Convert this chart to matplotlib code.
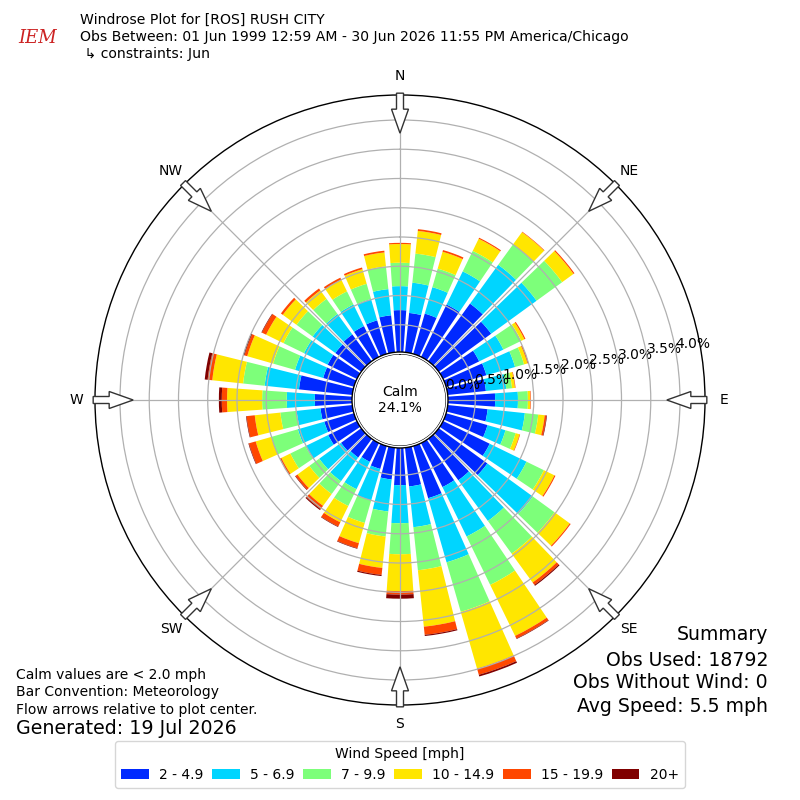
import numpy as np
import matplotlib
matplotlib.use("Agg")
import matplotlib.pyplot as plt
from matplotlib.patches import Circle, FancyArrow

# ---------------- data ----------------
directions = list(range(0, 360, 10))  # degrees, meteorological (from)
speed_bins = ["2 - 4.9", "5 - 6.9", "7 - 9.9", "10 - 14.9", "15 - 19.9", "20+"]

# frequency (%) per direction for each speed bin
s_2_5 = [0.75, 0.71, 0.75, 1.03, 1.25, 1.14, 0.72, 0.75, 0.69, 0.84, 0.72, 0.77,
         0.92, 1.06, 0.91, 0.87, 0.96, 0.70, 0.67, 0.58, 0.44, 0.39, 0.43, 0.46,
         0.58, 0.56, 0.58, 0.67, 0.95, 0.58, 0.59, 0.58, 0.60, 0.62, 0.63, 0.67]
s_5_7 = [0.41, 0.52, 0.47, 0.63, 0.82, 0.96, 0.46, 0.51, 0.35, 0.39, 0.64, 0.32,
         0.70, 0.96, 0.86, 0.94, 1.14, 0.70, 0.65, 0.55, 0.56, 0.52, 0.50, 0.46,
         0.43, 0.47, 0.41, 0.48, 0.59, 0.50, 0.45, 0.48, 0.43, 0.41, 0.38, 0.45]
s_7_10 = [0.40, 0.50, 0.33, 0.39, 0.43, 0.54, 0.34, 0.16, 0.10, 0.17, 0.23, 0.18,
          0.33, 0.46, 0.69, 0.92, 0.88, 0.74, 0.53, 0.43, 0.40, 0.32, 0.27, 0.21,
          0.29, 0.47, 0.28, 0.42, 0.37, 0.39, 0.39, 0.34, 0.32, 0.25, 0.27, 0.39]
s_10_15 = [0.32, 0.39, 0.30, 0.23, 0.26, 0.24, 0.06, 0.06, 0.05, 0.04, 0.11, 0.07,
           0.20, 0.32, 0.61, 0.97, 1.01, 0.97, 0.63, 0.54, 0.36, 0.31, 0.25, 0.25,
           0.17, 0.28, 0.44, 0.60, 0.53, 0.46, 0.33, 0.29, 0.18, 0.22, 0.26, 0.24]
s_15_20 = [0.02, 0.03, 0.03, 0.02, 0.01, 0.02, 0.02, 0.02, 0.01, 0.01, 0.03, 0.01,
           0.02, 0.02, 0.05, 0.05, 0.11, 0.14, 0.06, 0.12, 0.09, 0.08, 0.07, 0.04,
           0.03, 0.12, 0.14, 0.09, 0.08, 0.05, 0.08, 0.04, 0.04, 0.04, 0.03, 0.03]
s_20p = [0.00, 0.00, 0.00, 0.00, 0.00, 0.00, 0.00, 0.00, 0.00, 0.00, 0.01, 0.00,
         0.00, 0.00, 0.02, 0.01, 0.03, 0.02, 0.07, 0.02, 0.01, 0.01, 0.02, 0.01,
         0.00, 0.01, 0.01, 0.05, 0.05, 0.02, 0.01, 0.00, 0.00, 0.00, 0.00, 0.00]
series = [s_2_5, s_5_7, s_7_10, s_10_15, s_15_20, s_20p]

r_ticks = [0.0, 0.5, 1.0, 1.5, 2.0, 2.5, 3.0, 3.5, 4.0]
compass_deg = [0, 45, 90, 135, 180, 225, 270, 315]
compass_lab = ["N", "NE", "E", "SE", "S", "SW", "W", "NW"]
calm_pct = 24.1

# ---------------- figure ----------------
fig = plt.figure(figsize=(8, 8), dpi=100)
AX_R_PX = 305.0
ax_size = 2 * AX_R_PX / 800.0
ax = fig.add_axes([0.5 - ax_size / 2, 0.5 - ax_size / 2, ax_size, ax_size],
                  projection="polar")
ax.set_theta_zero_location("N")
ax.set_theta_direction(-1)

colors = plt.cm.jet(np.linspace(0, 1, 7)[1:])
theta = np.radians(directions)
bottom = np.zeros(len(directions))
for vals, c, lab in zip(series, colors, speed_bins):
    vals = np.asarray(vals)
    ax.bar(theta, vals, width=np.radians(8.0), bottom=bottom, color=c,
           edgecolor="none", label=lab, zorder=1)
    bottom = bottom + vals

rmax = 4.427
ax.set_ylim(0, rmax)
ax.set_rorigin(-0.786)
ax.set_yticks(r_ticks)
ax.set_yticklabels([f"{v:.1f}%" for v in r_ticks], fontsize=10)
ax.set_rlabel_position(80)
ax.set_xticks(np.radians(compass_deg))
ax.set_xticklabels([])
ax.grid(True, color="#b0b0b0", lw=0.9)
ax.spines["polar"].set_color("black")
ax.spines["polar"].set_linewidth(1.0)
ax.spines["inner"].set_visible(False)

# calm circle
ax.add_patch(Circle((0.5, 0.5), 48 / (2 * AX_R_PX), transform=ax.transAxes,
                    fc="white", ec="black", lw=1.0, zorder=4))
ax.text(0.5, 0.5, f"Calm\n{calm_pct:.1f}%", transform=ax.transAxes,
        ha="center", va="center", fontsize=10, zorder=6, linespacing=1.2)

# compass labels and flow arrows
for d, lab in zip(compass_deg, compass_lab):
    ax.text(np.radians(d), rmax + 19 / 58.5, lab, ha="center", va="center",
            fontsize=10)
    a = np.radians(d)
    ux, uy = np.sin(a), np.cos(a)
    start_r = 0.503
    L = 40 / (2 * AX_R_PX)
    arr = FancyArrow(0.5 + start_r * ux, 0.5 + start_r * uy, -ux * L, -uy * L,
                     width=7 / (2 * AX_R_PX), head_width=17 / (2 * AX_R_PX),
                     head_length=24 / (2 * AX_R_PX), length_includes_head=True,
                     transform=ax.transAxes, fc="white", ec="#333333", lw=1.0,
                     clip_on=False, zorder=7)
    ax.add_patch(arr)

# legend
fig.legend(loc="lower center", bbox_to_anchor=(0.5, 0.006), ncol=6,
           title="Wind Speed [mph]", fontsize=10, title_fontsize=10,
           handlelength=2.0, columnspacing=0.6, handletextpad=0.75,
           borderpad=0.45)

# header
fig.text(80 / 800, 1 - 20 / 800, "Windrose Plot for [ROS] RUSH CITY",
         fontsize=10.1, va="center", ha="left")
fig.text(80 / 800, 1 - 37 / 800,
         "Obs Between: 01 Jun 1999 12:59 AM - 30 Jun 2026 11:55 PM America/Chicago",
         fontsize=10.1, va="center", ha="left")
fig.text(80 / 800, 1 - 54 / 800, " \u21b3 constraints: Jun",
         fontsize=10.1, va="center", ha="left")
fig.text(38 / 800, 1 - 38 / 800, "IEM", color="#cc2222", fontsize=13,
         family="serif", style="italic", ha="center", va="center")

# footer left
fig.text(16 / 800, 1 - 675 / 800, "Calm values are < 2.0 mph", fontsize=10,
         va="center", ha="left")
fig.text(16 / 800, 1 - 692 / 800, "Bar Convention: Meteorology", fontsize=10,
         va="center", ha="left")
fig.text(16 / 800, 1 - 710 / 800, "Flow arrows relative to plot center.",
         fontsize=10, va="center", ha="left")
fig.text(16 / 800, 1 - 729 / 800, "Generated: 19 Jul 2026", fontsize=13.7,
         va="center", ha="left")

# footer right
for y, s in zip([635, 660, 683, 706],
                ["Summary", "Obs Used: 18792", "Obs Without Wind: 0",
                 "Avg Speed: 5.5 mph"]):
    fig.text(768 / 800, 1 - y / 800, s, fontsize=13.6, va="center", ha="right")

fig.savefig("out.png", dpi=100)
